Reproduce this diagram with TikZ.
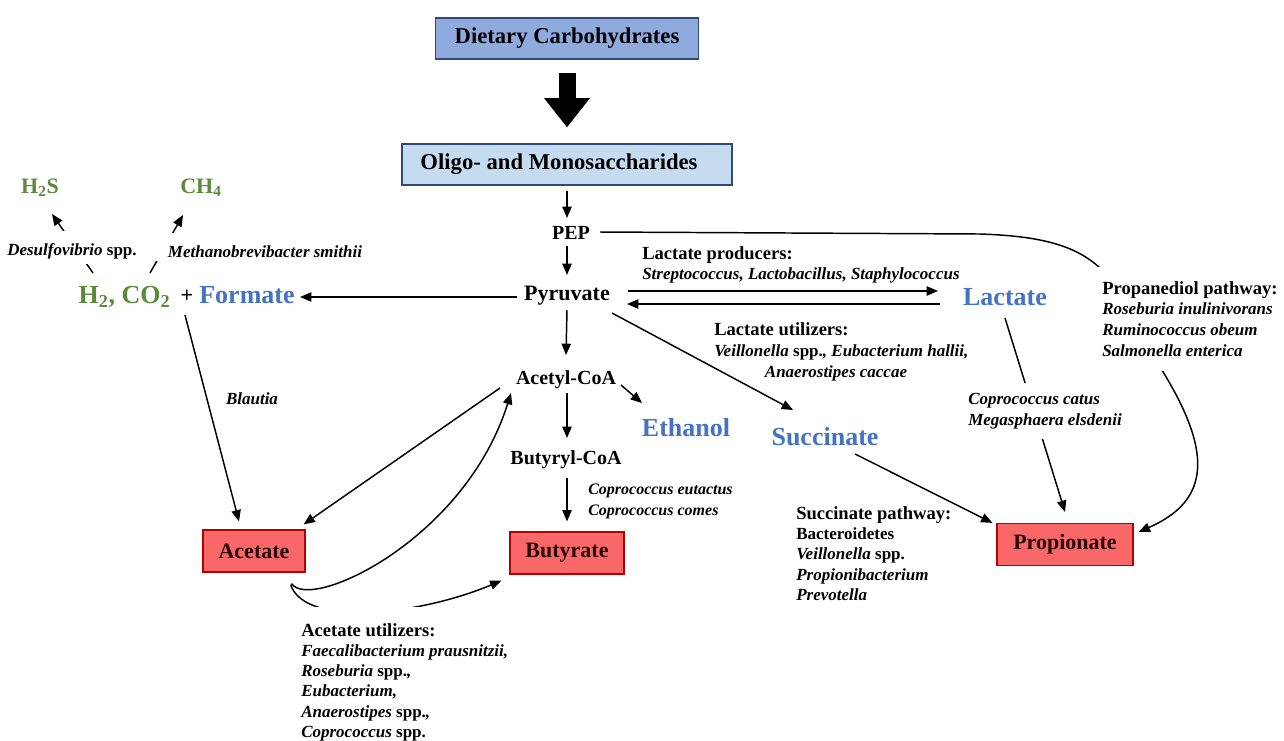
\documentclass[tikz,border=0pt]{standalone}
\usepackage{fontspec}
\setmainfont{Liberation Serif}
\usetikzlibrary{arrows.meta}
\definecolor{dietblue}{HTML}{8FAADC}
\definecolor{oliblue}{HTML}{C5DCF0}
\definecolor{boxedge}{HTML}{2F4A78}
\definecolor{scfa}{HTML}{F86868}
\definecolor{scfaedge}{HTML}{B00000}
\definecolor{scfatext}{HTML}{2A0505}
\definecolor{metblue}{HTML}{4472C4}
\definecolor{gasgreen}{HTML}{5A8A3A}
\newcommand\hd[1]{{\fontsize{13.9}{15.3}\selectfont\upshape\bfseries #1}}
\begin{document}
\begin{tikzpicture}[x=0.75pt,y=-0.75pt,
  arr/.style={line width=1.1pt,-{Triangle[length=8.5pt,width=7pt]}},
  ln/.style={line width=1.1pt},
  bigarrow/.style={line width=12.75pt,-{Triangle[length=22pt,width=33pt]}},
  bluebox/.style={draw=boxedge,line width=0.9pt,font=\fontsize{17}{20}\selectfont\bfseries,inner sep=0pt,minimum height=30.75pt},
  redbox/.style={draw=scfaedge,fill=scfa,line width=0.9pt,text=scfatext,font=\fontsize{16.5}{19}\selectfont\bfseries,inner sep=0pt,minimum height=31.5pt},
  inter/.style={inner sep=0pt,anchor=base,font=\fontsize{15}{18}\selectfont\bfseries},
  met/.style={inner sep=0pt,anchor=base,text=metblue,font=\fontsize{19.5}{22}\selectfont\bfseries},
  gas/.style={inner sep=0pt,anchor=base,text=gasgreen,font=\fontsize{19.5}{22}\selectfont\bfseries},
  gassm/.style={inner sep=0pt,anchor=base,text=gasgreen,font=\fontsize{16.5}{19}\selectfont\bfseries},
  lab/.style={inner sep=0pt,anchor=north west,align=left,font=\fontsize{12.75}{15.6}\selectfont\bfseries\itshape},
  mask/.style={fill=white}
]
\useasboundingbox (0,0) rectangle (1284,740);
\fill[white] (0,0) rectangle (1284,740);

% boxes
\node[bluebox,fill=dietblue,minimum width=197.25pt] (diet) at (567,38.5) {Dietary Carbohydrates};
\node[bluebox,fill=oliblue,minimum width=247.5pt] (olig) at (567,164.5) {Oligo- and Monosaccharides\hspace*{12pt}};
\node[redbox,minimum width=76.5pt] (acetate) at (254,551) {Acetate};
\node[redbox,minimum width=85.5pt] (butyrate) at (567,553) {Butyrate};
\node[redbox,minimum width=102pt] (prop) at (1065,544.5) {Propionate};

% intermediates
\node[inter] (pep) at (571,239) {PEP};
\node[inter,font=\fontsize{16.5}{19}\selectfont\bfseries] (pyr) at (567,300) {Pyruvate};
\node[inter] (acet) at (566,384) {Acetyl-CoA};
\node[inter] (buty) at (566,464) {Butyryl-CoA};
\node[met] (eth) at (686,436) {Ethanol};
\node[met] (succ) at (825,445) {Succinate};
\node[met] (lac) at (1005,305) {Lactate};
\node[met] (form) at (247,303) {Formate};
\node[gas] (h2) at (124.5,303) {H\textsubscript{2}, CO\textsubscript{2}};
\node[inter,font=\fontsize{16.5}{19}\selectfont\bfseries] (plus) at (187,302) {+};
\node[gassm] (h2s) at (40,193) {H\textsubscript{2}S};
\node[gassm] (ch4) at (201,193) {CH\textsubscript{4}};

% unmasked labels
\node[lab] (lprod) at (642,246) {\hd{Lactate producers:}\\Streptococcus, Lactobacillus, Staphylococcus};
\node[lab,font=\fontsize{12.75}{16}\selectfont\bfseries\itshape] (lutil) at (714,322) {\hd{Lactate utilizers:}\\Veillonella \textup{spp.}, Eubacterium hallii,\\\hspace*{38pt}Anaerostipes caccae};
\node[lab,font=\fontsize{12.75}{15.3}\selectfont\bfseries\itshape] (spath) at (796,506) {\hd{Succinate pathway:}\\\textup{Bacteroidetes}\\Veillonella \textup{spp.}\\Propionibacterium\\Prevotella};
\node[lab,font=\fontsize{12}{15.6}\selectfont\bfseries\itshape] (ceut) at (588,484) {Coprococcus eutactus\\Coprococcus comes};
\node[lab,anchor=center] (blau) at (252,399) {Blautia};

% connectors
\draw[bigarrow,shorten <=9.75pt,shorten >=12pt] (diet.south) -- (olig.north);
\draw[arr] ([shift={(0,5)}]olig.south) -- ([shift={(-4,-21)}]pep.base);
\draw[arr] ([shift={(-4,7)}]pep.base) -- ([shift={(0,-25)}]pyr.base);
\draw[arr] ([shift={(0,10)}]pyr.base) -- ([shift={(0,-29)}]acet.base);
\draw[arr] ([shift={(1,9)}]acet.base) -- ([shift={(1,-26)}]buty.base);
\draw[arr] ([shift={(1,14)}]buty.base) -- ([shift={(0,-10)}]butyrate.north);
\draw[arr] ([shift={(-50,-3)}]pyr.base) -- ([shift={(53,-6)}]form.base);
\draw[arr] ([shift={(61,-9)}]pyr.base) -- ([shift={(-67,-14)}]lac.base);
\draw[arr] ([shift={(-65,-1)}]lac.base) -- ([shift={(60,4)}]pyr.base);
\draw[arr] ([shift={(45,13)}]pyr.base) -- ([shift={(-32,-35)}]succ.base);
\draw[arr] ([shift={(55,1)}]acet.base) -- ([shift={(-44,-33)}]eth.base);
\draw[arr] ([shift={(-66,4)}]acet.base) -- ([shift={(-2,-5)}]acetate.north east);
\draw[arr] ([shift={(-14,11)}]acetate.south east) .. controls (310,612) and (465,540) .. ([shift={(-55,9)}]acet.base);
\draw[arr] ([shift={(-15,12)}]acetate.south east) .. controls (305,628) and (420,615) .. ([shift={(-8,6)}]butyrate.south west);
\draw[arr] ([shift={(-2,13)}]plus.base) -- ([shift={(-15,-8)}]acetate.north);
\draw[arr] ([shift={(30,9)}]succ.base) -- ([shift={(-4,0)}]prop.north west);
\draw[arr] ([shift={(0,13)}]lac.base) -- ([shift={(0,-11)}]prop.north);
\draw[arr] ([shift={(29,-7)}]pep.base) -- (980,234) .. controls (1040,236) and (1075,245) .. (1100,268)
   .. controls (1130,290) and (1148,340) .. (1160,367)
   .. controls (1212,450) and (1212,500) .. ([shift={(5,9)}]prop.north east);
\draw[arr] ([shift={(-31.5,-30)}]h2.base) -- ([shift={(12,21)}]h2s.base);
\draw[arr] ([shift={(25.5,-30)}]h2.base) -- ([shift={(-18,22)}]ch4.base);

% masking labels
\node[lab,mask,inner sep=10.5pt] (ppath) at (1088,267) {\hd{Propanediol pathway:}\\Roseburia inulinivorans\\Ruminococcus obeum\\Salmonella enterica};
\node[lab,mask,inner sep=12pt,font=\fontsize{12.75}{15.2}\selectfont\bfseries\itshape] (autil) at (285,607) {\hd{Acetate utilizers:}\\Faecalibacterium prausnitzii,\\Roseburia \textup{spp.},\\Eubacterium,\\Anaerostipes \textup{spp.},\\Coprococcus \textup{spp.}};
\node[lab,mask,inner sep=7.5pt] (ccat) at (958,383) {Coprococcus catus\\Megasphaera elsdenii};
\node[lab,mask,anchor=base,inner xsep=6pt,inner ysep=3.75pt] (desulf) at (72,255) {\rule{0pt}{14.25pt}Desulfovibrio \textup{spp.}};
\node[lab,mask,anchor=base,inner xsep=12.75pt,inner ysep=3pt] (meth) at (265,257) {\rule{0pt}{15pt}Methanobrevibacter smithii};
\end{tikzpicture}
\end{document}
